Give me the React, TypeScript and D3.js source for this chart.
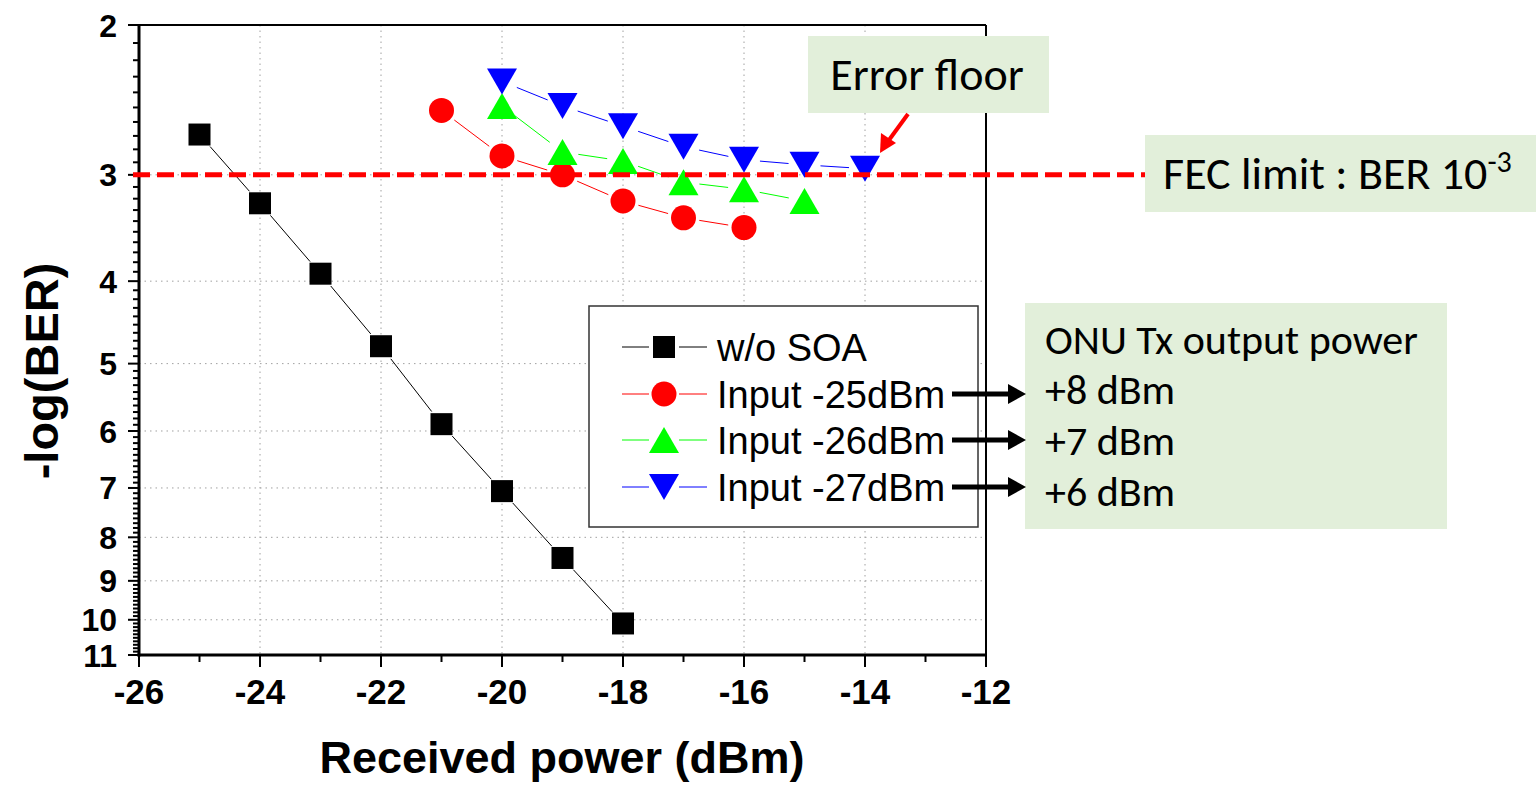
import React from "react";
import * as d3 from "d3";

// received power (dBm) and -log(BER)
const xNoSoa = [-25, -24, -23, -22, -21, -20, -19, -18];
const yNoSoa = [2.69, 3.24, 3.92, 4.77, 5.89, 7.06, 8.46, 10.1];
const x25 = [-21, -20, -19, -18, -17, -16];
const y25 = [2.52, 2.85, 3.0, 3.22, 3.37, 3.46];
const x26 = [-20, -19, -18, -17, -16, -15];
const y26 = [2.49, 2.82, 2.89, 3.06, 3.12, 3.22];
const x27 = [-20, -19, -18, -17, -16, -15, -14];
const y27 = [2.33, 2.49, 2.63, 2.78, 2.88, 2.92, 2.95];

const xTicks = [-26, -24, -22, -20, -18, -16, -14, -12];
const yTicks = [2, 3, 4, 5, 6, 7, 8, 9, 10, 11];
const seriesNames = ["w/o SOA", "Input -25dBm", "Input -26dBm", "Input -27dBm"];
const onuLines = ["+8 dBm", "+7 dBm", "+6 dBm"];
const fecLevel = 3;

const W = 1536;
const H = 786;
const ARIAL = "'Liberation Sans', Arial, sans-serif";
const CALIBRI = "Carlito, Lato, 'Noto Sans', sans-serif";
const BOX = "#e2efda";

const x = d3.scaleLinear().domain([-26, -12]).range([139, 986]);
const y = d3.scaleLog().domain([2, 11]).range([25, 655]);

type Shape = "square" | "circle" | "up" | "down";

function Marker({ cx, cy, shape, color }: { cx: number; cy: number; shape: Shape; color: string }) {
  if (shape === "square") return <rect x={cx - 11} y={cy - 11} width={22} height={22} fill={color} />;
  if (shape === "circle") return <circle cx={cx} cy={cy} r={12.5} fill={color} />;
  const s = shape === "up" ? 1 : -1;
  const pts = [
    [cx, cy - 13 * s],
    [cx + 15, cy + 13 * s],
    [cx - 15, cy + 13 * s],
  ];
  return <polygon points={pts.map((p) => p.join(",")).join(" ")} fill={color} />;
}

// lines between markers leave a small gap, like Origin does
function gappedSegments(xs: number[], ys: number[], gap: number) {
  const segs: number[][] = [];
  for (let i = 1; i < xs.length; i++) {
    const x1 = x(xs[i - 1]), y1 = y(ys[i - 1]);
    const x2 = x(xs[i]), y2 = y(ys[i]);
    const len = Math.hypot(x2 - x1, y2 - y1);
    if (len <= gap * 2) continue;
    const ux = (x2 - x1) / len, uy = (y2 - y1) / len;
    segs.push([x1 + ux * gap, y1 + uy * gap, x2 - ux * gap, y2 - uy * gap]);
  }
  return segs;
}

export default function App() {
  const series = [
    { xs: xNoSoa, ys: yNoSoa, shape: "square" as Shape, color: "#000000", line: "#000000" },
    { xs: x25, ys: y25, shape: "circle" as Shape, color: "#ff0000", line: "#ff0000" },
    { xs: x26, ys: y26, shape: "up" as Shape, color: "#00ff00", line: "#00ff00" },
    { xs: x27, ys: y27, shape: "down" as Shape, color: "#0000ff", line: "#0000ff" },
  ];

  const minorY = d3.range(20, 111).map((v) => v / 10).filter((v) => !Number.isInteger(v));
  const minorX = d3.range(-25, -12, 2);
  const [x0, x1] = x.range();
  const [yTop, yBot] = y.range();
  const legendRows = [347, 394, 440, 487];

  return (
    <svg width={W} height={H} style={{ position: "absolute", left: 0, top: 0, background: "#fff" }}>
      {/* grid */}
      <g stroke="#a0a0a0" strokeWidth={1} strokeDasharray="1.5,4">
        {xTicks.slice(1, -1).map((t) => (
          <line key={"gx" + t} x1={x(t)} x2={x(t)} y1={yTop} y2={yBot} />
        ))}
        {yTicks.slice(1, -1).map((t) => (
          <line key={"gy" + t} x1={x0} x2={x1} y1={y(t)} y2={y(t)} />
        ))}
      </g>

      {/* frame */}
      <line x1={x0} x2={x1} y1={yTop} y2={yTop} stroke="#000" strokeWidth={2} />
      <line x1={x1} x2={x1} y1={yTop} y2={yBot} stroke="#000" strokeWidth={2} />
      <line x1={x0} x2={x0} y1={yTop} y2={yBot + 1.5} stroke="#000" strokeWidth={3} />
      <line x1={x0 - 1.5} x2={x1 + 1} y1={yBot} y2={yBot} stroke="#000" strokeWidth={3} />

      {/* ticks */}
      <g stroke="#000" strokeWidth={2}>
        {yTicks.map((t) => (
          <line key={"ty" + t} x1={x0 - 11} x2={x0} y1={y(t)} y2={y(t)} />
        ))}
        {minorY.map((t) => (
          <line key={"my" + t} x1={x0 - 6} x2={x0} y1={y(t)} y2={y(t)} />
        ))}
        {xTicks.map((t) => (
          <line key={"tx" + t} x1={x(t)} x2={x(t)} y1={yBot} y2={yBot + 12} />
        ))}
        {minorX.map((t) => (
          <line key={"mx" + t} x1={x(t)} x2={x(t)} y1={yBot} y2={yBot + 7} />
        ))}
      </g>
      <g fontFamily={ARIAL} fontWeight="bold" fill="#000">
        {yTicks.map((t) => (
          <text key={"ly" + t} x={117} y={y(t)} dy="0.36em" fontSize={32} textAnchor="end">
            {t}
          </text>
        ))}
        {xTicks.map((t) => (
          <text key={"lx" + t} x={x(t)} y={704} fontSize={35} textAnchor="middle">
            {t}
          </text>
        ))}
        <text x={562} y={773} fontSize={45} textAnchor="middle">
          Received power (dBm)
        </text>
        <text transform="translate(58,371) rotate(-90)" fontSize={47} textAnchor="middle">
          -log(BER)
        </text>
      </g>

      {/* series */}
      {series.map((s, i) => (
        <g key={"s" + i}>
          {gappedSegments(s.xs, s.ys, 16).map((g, j) => (
            <line key={j} x1={g[0]} y1={g[1]} x2={g[2]} y2={g[3]} stroke={s.line} strokeWidth={1} />
          ))}
          {s.xs.map((v, j) => (
            <Marker key={j} cx={x(v)} cy={y(s.ys[j])} shape={s.shape} color={s.color} />
          ))}
        </g>
      ))}

      {/* FEC limit line */}
      <line
        x1={133}
        x2={1145}
        y1={y(fecLevel)}
        y2={y(fecLevel)}
        stroke="#ff0000"
        strokeWidth={5}
        strokeDasharray="17,7"
      />

      {/* legend */}
      <rect x={589} y={306} width={389} height={221} fill="#fff" stroke="#333" strokeWidth={1.5} />
      {series.map((s, i) => (
        <g key={"lg" + i}>
          <line x1={622} x2={649} y1={legendRows[i]} y2={legendRows[i]} stroke={s.line} strokeWidth={1} />
          <line x1={679} x2={707} y1={legendRows[i]} y2={legendRows[i]} stroke={s.line} strokeWidth={1} />
          <Marker cx={664} cy={legendRows[i]} shape={s.shape} color={s.color} />
          <text x={717} y={legendRows[i]} dy="0.36em" fontFamily={ARIAL} fontSize={38} fill="#000">
            {seriesNames[i]}
          </text>
        </g>
      ))}

      {/* ONU box */}
      <rect x={1025} y={303} width={422} height={226} fill={BOX} />
      <g fontFamily={CALIBRI} fontSize={42} fill="#000">
        <text x={1045} y={354}>ONU Tx output power</text>
        {onuLines.map((t, i) => (
          <text key={t} x={1045} y={404 + i * 51}>
            {t}
          </text>
        ))}
      </g>
      {legendRows.slice(1).map((r, i) => (
        <g key={"ar" + i}>
          <line x1={952} x2={1010} y1={r} y2={r} stroke="#000" strokeWidth={5} />
          <polygon points={`${1008},${r - 10} ${1026},${r} ${1008},${r + 10}`} fill="#000" />
        </g>
      ))}

      {/* FEC label */}
      <rect x={1145} y={135} width={391} height={77} fill={BOX} />
      <text x={1163} y={189} fontFamily={CALIBRI} fontSize={46} fill="#000">
        FEC limit : BER 10
        <tspan dy={-17} fontSize={30}>
          -3
        </tspan>
      </text>

      {/* error floor */}
      <rect x={808} y={36} width={241} height={77} fill={BOX} />
      <text x={927} y={90} fontFamily={CALIBRI} fontSize={46} textAnchor="middle" fill="#000">
        Error floor
      </text>
      <line x1={908} y1={114} x2={889} y2={140} stroke="#ff0000" strokeWidth={4} />
      <polygon points="880,153 881,133 896,143" fill="#ff0000" />
    </svg>
  );
}
